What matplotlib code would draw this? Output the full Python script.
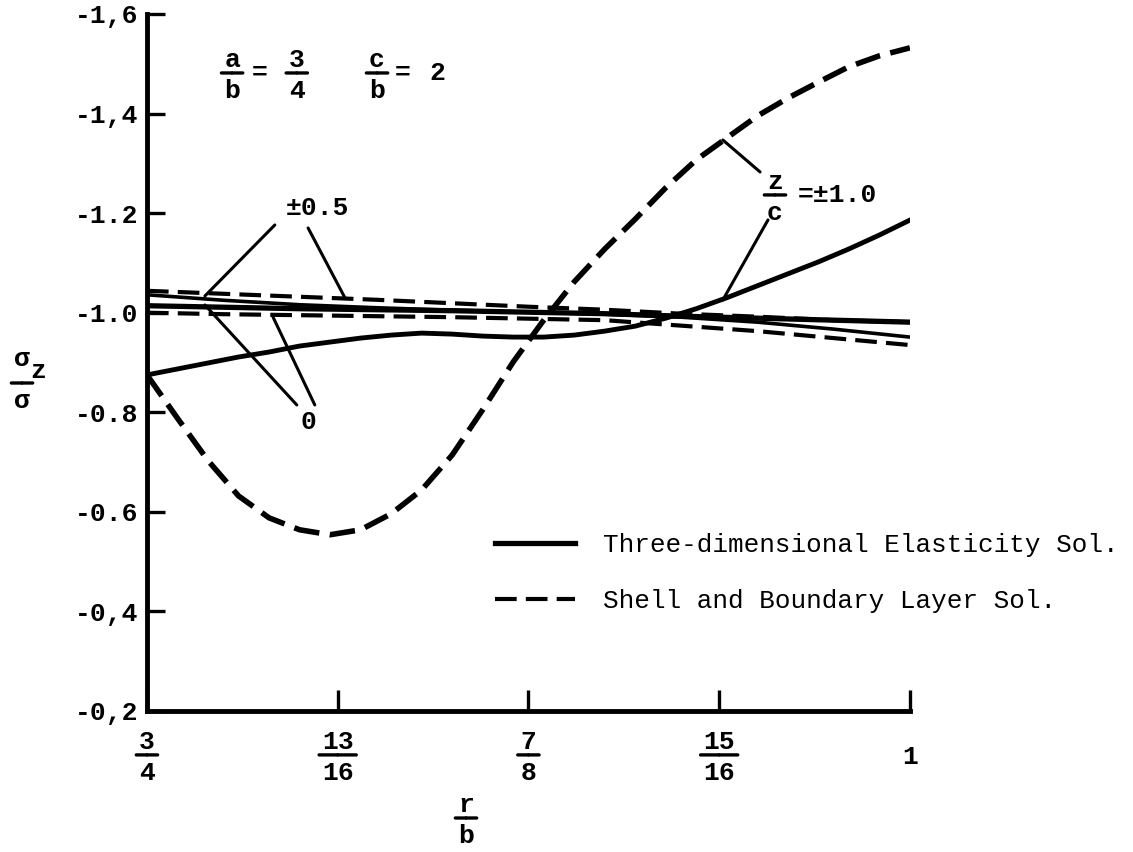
import matplotlib.pyplot as plt

plt.rcParams['font.family'] = ['Liberation Mono', 'DejaVu Sans']

# r/b positions
r_fine = [0.75, 0.76, 0.77, 0.78, 0.79, 0.80, 0.81, 0.82, 0.83, 0.84, 0.85, 0.86, 0.87,
          0.88, 0.89, 0.90, 0.91, 0.92, 0.93, 0.94, 0.95, 0.96, 0.97, 0.98, 0.99, 1.00]
r_flat = [0.75, 0.775, 0.80, 0.825, 0.85, 0.875, 0.90, 0.925, 0.95, 0.975, 1.00]

# z/c = +-1.0
shell_10 = [-0.875, -0.788, -0.703, -0.632, -0.588, -0.564, -0.554, -0.564, -0.596, -0.644, -0.714,
            -0.805, -0.901, -0.985, -1.062, -1.128, -1.188, -1.251, -1.307, -1.351, -1.395, -1.431,
            -1.463, -1.494, -1.516, -1.532]
elast_10 = [-0.875, -0.887, -0.899, -0.911, -0.921, -0.933, -0.941, -0.949, -0.955, -0.959, -0.957,
            -0.953, -0.951, -0.951, -0.955, -0.963, -0.973, -0.989, -1.008, -1.030, -1.054, -1.078,
            -1.102, -1.128, -1.156, -1.186]
# z/c = +-0.5
shell_05 = [-1.044, -1.038, -1.032, -1.026, -1.019, -1.012, -1.006, -0.998, -0.992, -0.985, -0.981]
elast_05 = [-1.036, -1.025, -1.016, -1.010, -1.005, -1.001, -0.997, -0.991, -0.981, -0.967, -0.951]
# z/c = 0
shell_0 = [-1.000, -0.997, -0.995, -0.993, -0.991, -0.988, -0.985, -0.974, -0.963, -0.949, -0.935]
elast_0 = [-1.014, -1.011, -1.008, -1.006, -1.004, -1.001, -0.998, -0.993, -0.989, -0.985, -0.981]

xticks = [0.75, 0.8125, 0.875, 0.9375, 1.0]
xfracs = [('3', '4'), ('13', '16'), ('7', '8'), ('15', '16'), ('1', '')]
yticks = [-1.6, -1.4, -1.2, -1.0, -0.8, -0.6, -0.4, -0.2]
ylabels = ['-1,6', '-1,4', '-1.2', '-1.0', '-0.8', '-0.6', '-0,4', '-0,2']

FS = 19

fig = plt.figure(figsize=(11.33, 8.52), dpi=100)
ax = fig.add_axes([0.1297, 0.1655, 0.6734, 0.8181])


def frac(x, y, num, den, coords='data', size=FS):
    kw = dict(xycoords=coords, textcoords='offset points', ha='center',
              fontsize=size, fontweight='bold', annotation_clip=False)
    ax.annotate(num, (x, y), xytext=(0, 4), va='baseline', **kw)
    ax.annotate(den, (x, y), xytext=(0, -4.5), va='top', **kw)
    half = (max(len(num), len(den)) * 0.6 * size + 4) / 2
    for s in (-1, 1):
        ax.annotate('', (x, y), xycoords=coords, xytext=(s * half, 0), textcoords='offset points',
                    annotation_clip=False,
                    arrowprops=dict(arrowstyle='-', lw=2.4, color='black', shrinkA=0, shrinkB=0))


def leader(p0, p1):
    ax.annotate('', xy=p1, xytext=p0,
                arrowprops=dict(arrowstyle='-', lw=2.2, color='black', shrinkA=0, shrinkB=0))


ax.plot(r_fine, shell_10, color='black', lw=4, dashes=(4.6, 1.9))
ax.plot(r_fine, elast_10, color='black', lw=3.5)
ax.plot(r_flat, shell_05, color='black', lw=3, dashes=(5.2, 2.2))
ax.plot(r_flat, elast_05, color='black', lw=2.6)
l_s0, = ax.plot(r_flat, shell_0, color='black', lw=3, dashes=(5.2, 2.2))
l_e0, = ax.plot(r_flat, elast_0, color='black', lw=3.8)

ax.set_xlim(0.75, 1.0)
ax.set_ylim(-0.2, -1.6)
for s in ['top', 'right']:
    ax.spines[s].set_visible(False)
for s in ['left', 'bottom']:
    ax.spines[s].set_linewidth(3.5)

ax.set_yticks(yticks)
ax.set_yticklabels(ylabels, fontsize=FS, fontweight='bold')
ax.tick_params(axis='y', direction='in', length=13, width=2.4, pad=6)
ax.set_xticks(xticks)
ax.set_xticklabels([''] * len(xticks))
ax.tick_params(axis='x', direction='in', length=15, width=2.4)

for xt, (n, d) in zip(xticks, xfracs):
    if d:
        frac(xt, -0.063, n, d, coords=('data', 'axes fraction'))
    else:
        ax.annotate(n, (xt, -0.066), xycoords=('data', 'axes fraction'), ha='center', va='center',
                    fontsize=FS, fontweight='bold', annotation_clip=False)

# axis labels
frac(466, 852 - 818, 'r', 'b', coords='figure pixels')
frac(22, 852 - 383, '', 'σ', coords='figure pixels')
ax.annotate('σ', (22, 852 - 383), xycoords='figure pixels', xytext=(0, 12), textcoords='offset points',
            ha='center', va='baseline', fontsize=FS, fontweight='bold')
ax.annotate('z', (22, 852 - 383), xycoords='figure pixels', xytext=(6, 3.5), textcoords='offset points',
            ha='left', va='baseline', fontsize=FS, fontweight='bold')

# parameters
frac(0.7779, -1.4815, 'a', 'b')
ax.text(0.7870, -1.4815, '=', ha='center', va='center', fontsize=FS, fontweight='bold')
frac(0.7991, -1.4815, '3', '4')
frac(0.8254, -1.4815, 'c', 'b')
ax.text(0.8339, -1.4815, '=', ha='center', va='center', fontsize=FS, fontweight='bold')
ax.text(0.8450, -1.4815, '2', ha='center', va='center', fontsize=FS, fontweight='bold')

# curve labels
ax.text(0.8060, -1.2104, '±0.5', ha='center', va='center', fontsize=FS, fontweight='bold')
leader((0.7919, -1.1762), (0.7690, -1.0336))
leader((0.8028, -1.1702), (0.8149, -1.0296))
ax.text(0.8028, -0.7806, '0', ha='center', va='center', fontsize=FS, fontweight='bold')
leader((0.7991, -0.8147), (0.7690, -1.0155))
leader((0.8050, -0.8147), (0.7913, -0.9914))
frac(0.9558, -1.2365, 'z', 'c')
ax.text(0.9633, -1.2365, '=±1.0', ha='left', va='center', fontsize=FS, fontweight='bold')
leader((0.9509, -1.2827), (0.9387, -1.3469))
leader((0.9535, -1.1863), (0.9387, -1.0256))

ax.legend([l_e0, l_s0], ['Three-dimensional Elasticity Sol.', 'Shell and Boundary Layer Sol.'],
          loc='upper left', bbox_to_anchor=(495 / 1133, 1 - 533 / 852), bbox_transform=fig.transFigure,
          frameon=False, borderpad=0, borderaxespad=0, handlelength=3.07, handletextpad=1.1,
          labelspacing=1.25, prop={'size': 18.7})

fig.savefig('out.png', dpi=100)
